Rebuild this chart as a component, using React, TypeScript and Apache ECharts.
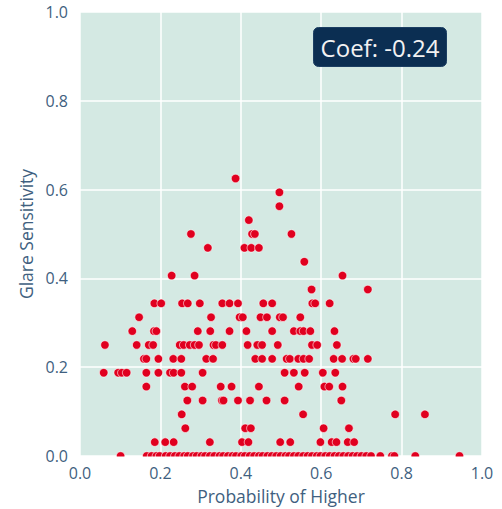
import React, { useEffect, useRef } from "react";
import * as echarts from "echarts";

// Probability of Higher values, grouped by Glare Sensitivity level
const glareLevels = [0.625, 0.59375, 0.5625, 0.53125, 0.5, 0.46875, 0.4375, 0.40625, 0.375, 0.34375, 0.3125, 0.28125, 0.25, 0.21875, 0.1875, 0.15625, 0.125, 0.09375, 0.0625, 0.03125, 0];

const x0625 = [0.387];
const x0594 = [0.496];
const x0563 = [0.496];
const x0531 = [0.42];
const x0500 = [0.276, 0.428, 0.435, 0.526];
const x0469 = [0.318, 0.409, 0.426, 0.445];
const x0438 = [0.558];
const x0406 = [0.228, 0.285, 0.653];
const x0375 = [0.576, 0.716];
const x0344 = [0.185, 0.202, 0.254, 0.268, 0.298, 0.354, 0.372, 0.393, 0.456, 0.478, 0.578, 0.585, 0.621];
const x0313 = [0.147, 0.326, 0.397, 0.405, 0.449, 0.465, 0.497, 0.505, 0.548];
const x0281 = [0.13, 0.184, 0.19, 0.293, 0.324, 0.372, 0.414, 0.478, 0.532, 0.548, 0.556, 0.573, 0.633];
const x0250 = [0.062, 0.141, 0.171, 0.182, 0.248, 0.258, 0.273, 0.285, 0.296, 0.332, 0.338, 0.354, 0.417, 0.441, 0.453, 0.492, 0.577, 0.59, 0.639];
const x0219 = [0.159, 0.165, 0.195, 0.232, 0.252, 0.314, 0.331, 0.436, 0.453, 0.478, 0.514, 0.522, 0.543, 0.556, 0.57, 0.631, 0.652, 0.68, 0.686, 0.716];
const x0188 = [0.059, 0.095, 0.104, 0.116, 0.165, 0.195, 0.224, 0.233, 0.252, 0.305, 0.509, 0.532, 0.559, 0.604, 0.635];
const x0156 = [0.165, 0.261, 0.279, 0.35, 0.377, 0.445, 0.544, 0.608, 0.62, 0.653];
const x0125 = [0.267, 0.305, 0.353, 0.357, 0.393, 0.423, 0.464, 0.509, 0.65];
const x0094 = [0.253, 0.555, 0.784, 0.858];
const x0063 = [0.262, 0.411, 0.425, 0.606, 0.669];
const x0031 = [0.186, 0.212, 0.233, 0.323, 0.403, 0.419, 0.498, 0.523, 0.598, 0.626, 0.638, 0.666, 0.682];
const x0000 = [0.101, 0.166, 0.178, 0.19, 0.198, 0.213, 0.224, 0.236, 0.247, 0.259, 0.268, 0.281, 0.29, 0.302, 0.311, 0.323, 0.334, 0.347, 0.356, 0.368, 0.379, 0.388, 0.401, 0.41, 0.422, 0.433, 0.445, 0.454, 0.466, 0.477, 0.488, 0.499, 0.511, 0.52, 0.532, 0.543, 0.555, 0.566, 0.577, 0.589, 0.598, 0.61, 0.621, 0.633, 0.644, 0.655, 0.667, 0.678, 0.689, 0.7, 0.712, 0.724, 0.747, 0.776, 0.782, 0.834, 0.944];

const xsByLevel = [x0625, x0594, x0563, x0531, x0500, x0469, x0438, x0406, x0375, x0344, x0313, x0281, x0250, x0219, x0188, x0156, x0125, x0094, x0063, x0031, x0000];

const axisTicks = [0, 0.2, 0.4, 0.6, 0.8, 1.0];
const coefText = "Coef: -0.24";
const xTitle = "Probability of Higher";
const yTitle = "Glare Sensitivity";

export default function App() {
  const ref = useRef<HTMLDivElement>(null);
  useEffect(() => {
    if (!ref.current) return;
    const chart = echarts.init(ref.current, undefined, { renderer: "svg" });
    const data: number[][] = [];
    glareLevels.forEach((g, i) => {
      xsByLevel[i].forEach((x) => data.push([x, g]));
    });
    const textColor = "#3f5f80";
    const font = "'Open Sans', 'Noto Sans', sans-serif";
    chart.setOption({
      animation: false,
      backgroundColor: "#ffffff",
      grid: {
        left: 80,
        right: 20,
        top: 12,
        bottom: 53,
        show: true,
        containLabel: false,
        outerBoundsMode: "none",
        backgroundColor: "#d4e9e3",
        borderWidth: 0,
      },
      xAxis: {
        type: "value",
        min: axisTicks[0],
        max: axisTicks[axisTicks.length - 1],
        interval: 0.2,
        name: xTitle,
        nameLocation: "middle",
        nameGap: 31,
        nameTextStyle: { color: textColor, fontSize: 17.5, fontFamily: font },
        axisLine: { show: false },
        axisTick: { show: false },
        axisLabel: {
          color: textColor,
          fontSize: 16,
          fontFamily: font,
          margin: 9,
          formatter: (v: number) => v.toFixed(1),
        },
        splitLine: { show: true, lineStyle: { color: "#ffffff", width: 1.5 } },
      },
      yAxis: {
        type: "value",
        min: axisTicks[0],
        max: axisTicks[axisTicks.length - 1],
        interval: 0.2,
        name: yTitle,
        nameLocation: "middle",
        nameGap: 38,
        nameTextStyle: { color: textColor, fontSize: 17.5, fontFamily: font },
        axisLine: { show: false },
        axisTick: { show: false },
        axisLabel: {
          color: textColor,
          fontSize: 16,
          fontFamily: font,
          margin: 12,
          formatter: (v: number) => v.toFixed(1),
        },
        splitLine: { show: true, lineStyle: { color: "#ffffff", width: 1.5 } },
      },
      series: [
        {
          type: "scatter",
          data,
          symbol: "circle",
          symbolSize: 8.5,
          clip: true,
          itemStyle: { color: "#e0001f", borderColor: "#ffffff", borderWidth: 0.6, opacity: 1 },
        },
      ],
      graphic: [
        {
          type: "rect",
          left: 78,
          top: 456.5,
          z: 100,
          shape: { x: 0, y: 0, width: 408, height: 5.5 },
          style: { fill: "#ffffff" },
        },
        {
          type: "group",
          left: 313,
          top: 27,
          z: 100,
          children: [
            {
              type: "rect",
              z: 100,
              shape: { x: 0, y: 0, width: 133, height: 39, r: 5 },
              style: { fill: "#0b2e52", stroke: "#1c3f63", lineWidth: 1 },
            },
            {
              type: "text",
              z: 101,
              x: 66.5,
              y: 20,
              style: {
                text: coefText,
                fill: "#f2f2f2",
                font: `24px ${font}`,
                align: "center",
                verticalAlign: "middle",
              },
            },
          ],
        },
      ],
    });
    return () => chart.dispose();
  }, []);
  return <div ref={ref} style={{ width: 502, height: 509, position: "absolute", left: 0, top: 0 }} />;
}
